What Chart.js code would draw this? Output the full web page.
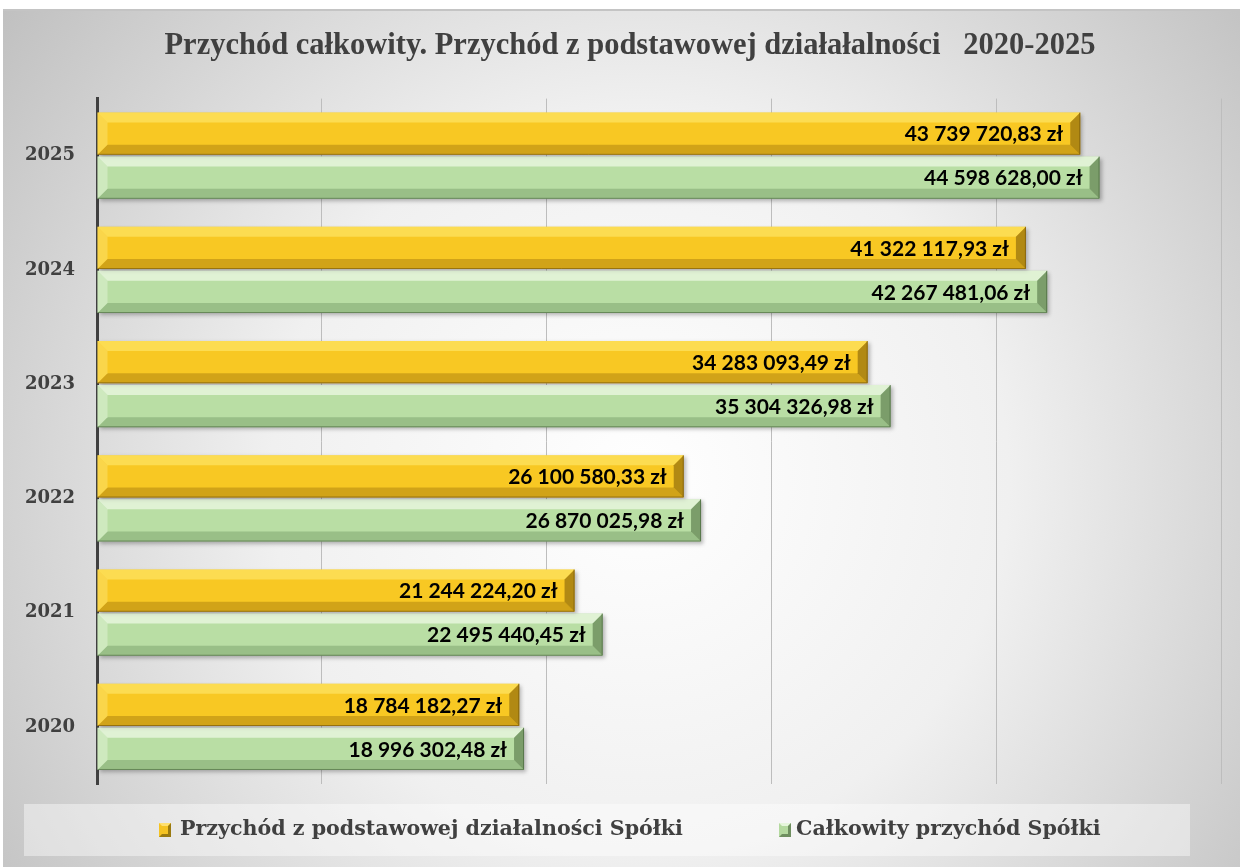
<!DOCTYPE html>
<html><head><meta charset="utf-8">
<script src="https://cdn.jsdelivr.net/npm/chart.js@4.4.1/dist/chart.umd.min.js"></script>
<style>html,body{margin:0;padding:0;background:#fff;overflow:hidden}#wrap{width:1240px;height:867px;position:relative}</style>
</head><body><div id="wrap"><canvas id="c" width="1240" height="867"></canvas></div>
<script>
const years = ['2025', '2024', '2023', '2022', '2021', '2020'];
const coreRevenue = [43739720.83, 41322117.93, 34283093.49, 26100580.33, 21244224.20, 18784182.27];
const totalRevenue = [44598628.00, 42267481.06, 35304326.98, 26870025.98, 22495440.45, 18996302.48];
const seriesNames = ['Przychód z podstawowej działalności Spółki', 'Całkowity przychód Spółki'];
const titleText = 'Przychód całkowity. Przychód z podstawowej działałalności   2020-2025';
const xMax = 50000000;
const xStep = 10000000;

function fmt(v) {
  const parts = v.toFixed(2).split('.');
  const int = parts[0].replace(/\B(?=(\d{3})+(?!\d))/g, ' ');
  return int + ',' + parts[1] + ' zł';
}

const bevel = [
  {top: 'rgba(255,236,120,0.55)', bottom: 'rgba(120,80,0,0.30)', right: 'rgba(90,60,0,0.45)', left: 'rgba(255,240,150,0.35)', edge: 'rgba(110,80,10,0.6)'},
  {top: 'rgba(250,255,245,0.60)', bottom: 'rgba(40,80,30,0.22)', right: 'rgba(30,60,20,0.40)', left: 'rgba(245,255,240,0.35)', edge: 'rgba(60,90,50,0.55)'}
];

const bgPlugin = {
  id: 'bg',
  beforeDraw(chart) {
    const ctx = chart.ctx;
    ctx.save();
    ctx.fillStyle = '#ffffff';
    ctx.fillRect(0, 0, chart.width, chart.height);
    const g = ctx.createRadialGradient(640, 480, 0, 640, 480, 820);
    g.addColorStop(0, '#ffffff');
    g.addColorStop(0.45, '#f0f0f0');
    g.addColorStop(1, '#bdbdbd');
    ctx.fillStyle = g;
    ctx.fillRect(3, 10, chart.width - 3, chart.height - 10);
    ctx.fillStyle = '#c4c4c4';
    ctx.fillRect(3, 9, chart.width - 3, 2);
    ctx.restore();
  }
};

const shadowPlugin = {
  id: 'barShadow',
  beforeDatasetsDraw(chart) {
    const ctx = chart.ctx;
    ctx.save();
    ctx.shadowColor = 'rgba(0,0,0,0.28)';
    ctx.shadowBlur = 4;
    ctx.shadowOffsetX = 2;
    ctx.shadowOffsetY = 2;
  },
  afterDatasetsDraw(chart) {
    const ctx = chart.ctx;
    ctx.restore();
    const b = 10;
    chart.data.datasets.forEach((ds, di) => {
      const meta = chart.getDatasetMeta(di);
      const c = bevel[di];
      meta.data.forEach((el, i) => {
        const p = el.getProps(['x', 'y', 'base', 'height'], true);
        const left = Math.min(p.base, p.x), right = Math.max(p.base, p.x);
        const top = p.y - p.height / 2, bottom = p.y + p.height / 2;
        const poly = (pts, col) => {
          ctx.beginPath();
          ctx.moveTo(pts[0][0], pts[0][1]);
          for (let k = 1; k < pts.length; k++) ctx.lineTo(pts[k][0], pts[k][1]);
          ctx.closePath();
          ctx.fillStyle = col;
          ctx.fill();
        };
        ctx.save();
        poly([[left, top], [right, top], [right - b, top + b], [left + b, top + b]], c.top);
        poly([[left, bottom], [right, bottom], [right - b, bottom - b], [left + b, bottom - b]], c.bottom);
        poly([[right, top], [right, bottom], [right - b, bottom - b], [right - b, top + b]], c.right);
        poly([[left, top], [left + b, top + b], [left + b, bottom - b], [left, bottom]], c.left);
        ctx.strokeStyle = c.edge;
        ctx.lineWidth = 1;
        ctx.beginPath();
        ctx.moveTo(left, bottom - 0.5);
        ctx.lineTo(right - 0.5, bottom - 0.5);
        ctx.lineTo(right - 0.5, top);
        ctx.stroke();
        // value label
        ctx.fillStyle = '#000000';
        ctx.font = 'bold 21px Lato';
        ctx.textAlign = 'right';
        ctx.textBaseline = 'middle';
        ctx.fillText(fmt(ds.data[i]), right - 17, p.y + 1);
        ctx.restore();
      });
    });
  }
};

const legendPlugin = {
  id: 'customLegend',
  afterDraw(chart) {
    const ctx = chart.ctx;
    ctx.save();
    ctx.fillStyle = 'rgba(255,255,255,0.42)';
    ctx.fillRect(24, 804, 1166, 52);
    const items = [
      {x: 159, color: '#f5c322', dark: '#9a7a10', light: '#ffe070'},
      {x: 779, color: '#b4d99f', dark: '#6f8f60', light: '#e6f6dc'}
    ];
    items.forEach((it, i) => {
      const mx = it.x, my = 823, w = 12, h = 14;
      ctx.fillStyle = it.color;
      ctx.fillRect(mx, my, w, h);
      ctx.fillStyle = it.light;
      ctx.beginPath(); ctx.moveTo(mx, my); ctx.lineTo(mx + w, my); ctx.lineTo(mx + w - 3, my + 3); ctx.lineTo(mx + 3, my + 3); ctx.closePath(); ctx.fill();
      ctx.fillStyle = it.dark;
      ctx.beginPath(); ctx.moveTo(mx, my + h); ctx.lineTo(mx + w, my + h); ctx.lineTo(mx + w, my); ctx.lineTo(mx + w - 3, my + 3); ctx.lineTo(mx + w - 3, my + h - 3); ctx.lineTo(mx + 3, my + h - 3); ctx.closePath(); ctx.fill();
      ctx.fillStyle = '#404040';
      ctx.font = 'bold 20.6px "DejaVu Serif"';
      ctx.textAlign = 'left';
      ctx.textBaseline = 'middle';
      ctx.fillText(chart.data.datasets[i].label, mx + w + (i === 0 ? 9 : 5), 830);
    });
    ctx.restore();
  }
};

new Chart(document.getElementById('c'), {
  type: 'bar',
  data: {
    labels: years,
    datasets: [
      {label: seriesNames[0], data: coreRevenue, backgroundColor: '#f8c823', borderWidth: 0},
      {label: seriesNames[1], data: totalRevenue, backgroundColor: '#b9dea4', borderWidth: 0}
    ]
  },
  options: {
    indexAxis: 'y',
    responsive: false,
    animation: false,
    devicePixelRatio: 1,
    categoryPercentage: 0.77,
    barPercentage: 0.96,
    layout: {padding: {top: 8, bottom: 83, left: 20, right: 0}},
    plugins: {
      legend: {display: false},
      tooltip: {enabled: false},
      title: {
        display: true,
        text: titleText,
        color: '#404040',
        font: {family: '"Liberation Serif"', size: 30.5, weight: 'bold'},
        padding: {top: 20, bottom: 34}
      }
    },
    scales: {
      x: {
        min: 0, max: xMax,
        ticks: {display: false, stepSize: xStep},
        grid: {color: '#bdbdbd', lineWidth: 1, drawTicks: false},
        border: {display: false},
        afterFit(s) { s.height = 0; }
      },
      y: {
        z: 1,
        ticks: {color: '#404040', font: {family: '"DejaVu Serif"', size: 18, weight: 'bold'}, padding: 22},
        grid: {display: false, drawTicks: false},
        border: {display: true, color: '#404040', width: 3},
        afterFit(s) { s.width = 77; }
      },
      yRightGap: {
        type: 'linear',
        position: 'right',
        display: true,
        ticks: {display: false},
        grid: {display: false, drawTicks: false},
        border: {display: false},
        afterFit(s) { s.width = 19; }
      }
    }
  },
  plugins: [bgPlugin, shadowPlugin, legendPlugin]
});
</script>
</body></html>
